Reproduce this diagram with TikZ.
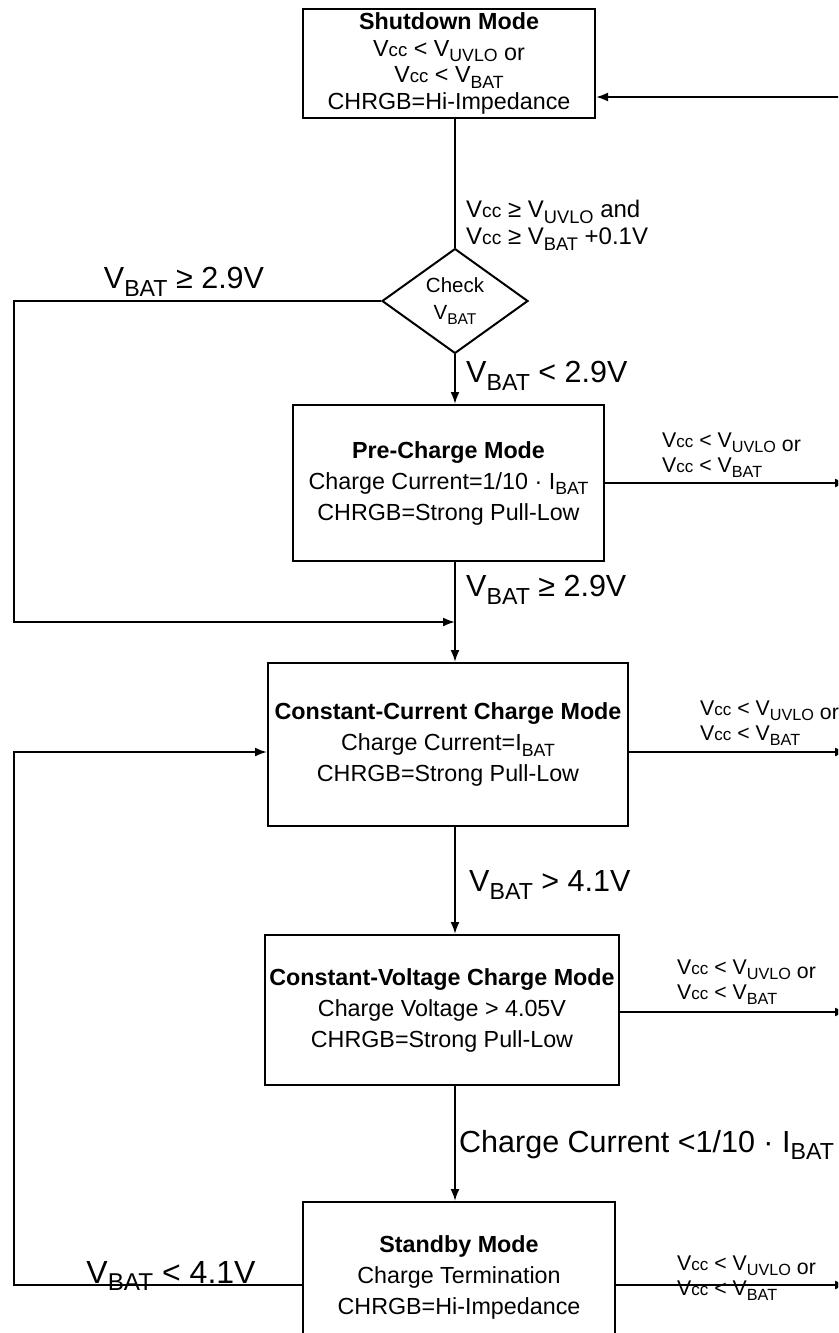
\documentclass[tikz,border=0pt]{standalone}
\usepackage{fontspec}
\usepackage{graphicx}
\setmainfont{Liberation Sans}
\usetikzlibrary{arrows.meta,shapes.geometric}
\newcommand{\Sb}[1]{\raisebox{-0.24em}{\scalebox{0.76}{#1}}}
\newcommand{\Vcc}{V\scalebox{0.8}{cc}}
\newcommand{\lowor}{\raisebox{-0.2em}{or}}
\tikzset{
  modebox/.style={draw, line width=2pt, rectangle, inner sep=0pt, align=center, font=\fontsize{23.3}{31}\selectfont},
  conn/.style={line width=2pt},
  arr/.style={line width=2pt, -{Latex[length=12pt,width=9pt]}},
  biglbl/.style={inner sep=0pt, font=\fontsize{30.5}{34}\selectfont},
  midlbl/.style={inner sep=0pt, align=left, font=\fontsize{24}{27}\selectfont},
  smalllbl/.style={inner sep=0pt, align=left, font=\fontsize{21.3}{25}\selectfont},
}
\begin{document}
\begin{tikzpicture}[x=1pt,y=-1pt]
\useasboundingbox (0,0) rectangle (838,1333);
\clip (0,0) rectangle (838,1333);
% boxes
\node[modebox, font=\fontsize{23.3}{26.5}\selectfont, minimum width=292pt, minimum height=109pt] (sd) at (449,63.5)
  {\textbf{Shutdown Mode}\\ \Vcc{} < V\Sb{UVLO} \lowor\\ \Vcc{} < V\Sb{BAT}\\ CHRGB=Hi-Impedance};
\node[draw, diamond, line width=2pt, minimum width=146pt, minimum height=88pt, inner sep=0pt, align=center, font=\fontsize{20.5}{27}\selectfont] (chk) at (455,301)
  {\raisebox{-4pt}{Check}\\\raisebox{-4pt}{V\Sb{BAT}}};
\node[modebox, minimum width=311pt, minimum height=156pt] (pc) at (448.5,483)
  {\textbf{Pre-Charge Mode}\\ Charge Current=1/10 \textperiodcentered{} I\Sb{BAT}\\ CHRGB=Strong Pull-Low};
\node[modebox, minimum width=360pt, minimum height=163pt] (cc) at (448,744.5)
  {\textbf{Constant-Current Charge Mode}\\ Charge Current=I\Sb{BAT}\\ CHRGB=Strong Pull-Low};
\node[modebox, minimum width=354pt, minimum height=150pt] (cv) at (442,1010)
  {\textbf{Constant-Voltage Charge Mode}\\ Charge Voltage > 4.05V\\ CHRGB=Strong Pull-Low};
\node[modebox, minimum width=312pt, minimum height=150pt] (sb) at (459,1277)
  {\textbf{Standby Mode}\\ Charge Termination\\ CHRGB=Hi-Impedance};
% coordinates
\coordinate (e0) at (852,97);
\coordinate (l1) at (14,301);
\coordinate (l2) at (14,622);
\coordinate (e1) at (847,483);
\coordinate (l4) at (14,752);
\coordinate (e2) at (847,752);
\coordinate (e3) at (847,1012);
\coordinate (l3) at (14,1285);
\coordinate (e4) at (847,1285);
% connectors
\draw[arr] (e0) -- (e0 -| sd.east);
\draw[conn] (sd.south -| chk.north) -- (chk.north);
\draw[arr] (chk.south) -- (chk.south |- pc.north);
\draw[arr] (chk.west) -- (l1) -- (l2) -- (l2 -| chk.south);
\draw[arr] (pc.south -| chk.south) -- (cc.north -| chk.south);
\draw[arr] (cc.south -| chk.south) -- (cv.north -| chk.south);
\draw[arr] (cv.south -| chk.south) -- (sb.north -| chk.south);
\draw[arr] (sb.west |- l3) -- (l3) -- (l4) -- (l4 -| cc.west);
\draw[arr] (pc.east |- e1) -- (e1);
\draw[arr] (cc.east |- e2) -- (e2);
\draw[arr] (cv.east |- e3) -- (e3);
\draw[arr] (sb.east |- e4) -- (e4);
% labels
\node[midlbl, anchor=west] (t1) at (466,225) {\Vcc{} ≥ V\Sb{UVLO} and\\ \Vcc{} ≥ V\Sb{BAT} +0.1V};
\node[biglbl] (t2) at (184,282) {V\Sb{BAT} ≥ 2.9V};
\node[biglbl, anchor=west] (t3) at (466,376) {V\Sb{BAT} < 2.9V};
\node[biglbl, anchor=west] (t4) at (466,590) {V\Sb{BAT} ≥ 2.9V};
\node[biglbl, anchor=west] (t5) at (469,885) {V\Sb{BAT} > 4.1V};
\node[biglbl, anchor=west] (t6) at (459,1145) {Charge Current <1/10 \textperiodcentered{} I\Sb{BAT}};
\node[biglbl, font=\fontsize{32}{34}\selectfont] (t7) at (171,1276) {V\Sb{BAT} < 4.1V};
\node[smalllbl, anchor=west] (r1) at (662,455) {\Vcc{} < V\Sb{UVLO} \lowor\\ \Vcc{} < V\Sb{BAT}};
\node[smalllbl, anchor=west] (r2) at (700,723) {\Vcc{} < V\Sb{UVLO} \lowor\\ \Vcc{} < V\Sb{BAT}};
\node[smalllbl, anchor=west] (r3) at (677,982) {\Vcc{} < V\Sb{UVLO} \lowor\\ \Vcc{} < V\Sb{BAT}};
\node[smalllbl, anchor=west] (r4) at (677,1278) {\Vcc{} < V\Sb{UVLO} \lowor\\ \Vcc{} < V\Sb{BAT}};
\end{tikzpicture}
\end{document}
